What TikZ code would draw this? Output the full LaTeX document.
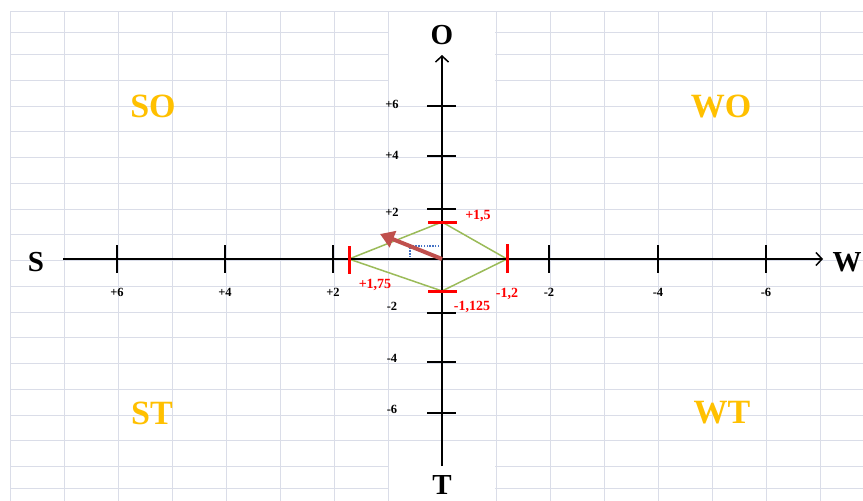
\documentclass[tikz,border=0pt]{standalone}
\usepackage{fontspec}
\setmainfont{Liberation Serif}
\usetikzlibrary{arrows.meta}
\definecolor{gridc}{RGB}{218,221,232}
\definecolor{gold}{RGB}{255,192,0}
\definecolor{dgreen}{RGB}{155,187,89}
\definecolor{arrowred}{RGB}{192,80,77}
\definecolor{dotblue}{RGB}{68,114,196}
\begin{document}
\begin{tikzpicture}[x=1pt,y=-1pt,
  gridline/.style={draw=gridc,line width=1pt},
  axisline/.style={draw=black,line width=1.5pt,-{Straight Barb[length=6pt,width=13pt,line width=1.5pt]}},
  tickline/.style={draw=black,line width=1.5pt},
  redtick/.style={draw=red,line width=3pt},
  axlabel/.style={inner sep=0pt,font=\fontsize{29}{29}\selectfont\bfseries},
  quadlabel/.style={inner sep=0pt,text=gold,font=\fontsize{34}{34}\selectfont\bfseries},
  ticklabel/.style={inner sep=0pt,font=\fontsize{12.5}{12.5}\selectfont\bfseries},
  redlabel/.style={inner sep=0pt,text=red,font=\fontsize{14}{14}\selectfont\bfseries},
  diam/.style={draw=dgreen,line width=1.5pt,line join=miter},
  dotline/.style={draw=dotblue,line width=1.4pt,dash pattern=on 1.4pt off 1.4pt},
  vecarrow/.style={draw=arrowred,line width=4pt,-{Triangle[length=14pt,width=17pt]}}
]
\useasboundingbox (0,0) rectangle (863,501);
\fill[white] (0,0) rectangle (863,501);
% grid
\foreach \i in {0,...,15} \draw[gridline] ({10+54*\i},11) -- ({10+54*\i},501);
\foreach \y in {11,32,54,80,106,131,157,183,209,234,260,286,312,337,363,389,415,440,466,488}
  \draw[gridline] (10,\y) -- (863,\y);
% white boxes behind O and T
\fill[white] (389,12) rectangle (495,92);
\fill[white] (389,462) rectangle (495,501);
% points
\coordinate (xs) at (63,259);
\coordinate (xe) at (823,259);
\coordinate (ys) at (442,466);
\coordinate (ye) at (442,55);
\coordinate (orig) at (442,259);
\coordinate (dl) at (349,259);
\coordinate (dt) at (442,222);
\coordinate (dr) at (507,259);
\coordinate (db) at (442,291);
\coordinate (p1) at (442,246);
\coordinate (p2) at (410,246);
\coordinate (p3) at (410,260);
\coordinate (tipv) at (380,234);
% diamond and dotted helper
\draw[diam] (dl) -- (dt) -- (dr) -- (db) -- cycle;
\draw[dotline] (p1) -- (p2) -- (p3);
% axes
\draw[axisline] (xs) -- (xe);
\draw[axisline] (ys) -- (ye);
% horizontal ticks
\foreach \x/\l in {117/+6,225/+4,333/+2,549/-2,658/-4,766/-6}{
  \draw[tickline] (\x,245) -- (\x,273);
  \node[ticklabel] (hx\x) at (\x,292) {\l};
}
% vertical ticks
\foreach \y in {106,156,209,313,362,413}
  \draw[tickline] (427,\y) -- (456,\y);
\foreach \y/\l in {104/+6,155/+4,212/+2,306/-2,358/-4,409/-6}
  \node[ticklabel] (vy\y) at (392,\y) {\l};
% red ticks
\draw[redtick] (428,222) -- (457,222);
\draw[redtick] (428,291) -- (457,291);
\draw[redtick] (349,246) -- (349,274);
\draw[redtick] (507,244) -- (507,273);
% red labels
\node[redlabel] (r1) at (478,216) {+1,5};
\node[redlabel] (r2) at (472,307) {-1,125};
\node[redlabel] (r3) at (375,285) {+1,75};
\node[redlabel] (r4) at (507,294) {-1,2};
% vector arrow
\draw[vecarrow] (orig) -- (tipv);
% axis labels
\node[axlabel] (lO) at (442,35) {O};
\node[axlabel] (lS) at (36,262) {S};
\node[axlabel] (lW) at (847,262) {W};
\node[axlabel] (lT) at (442,485) {T};
% quadrant labels
\node[quadlabel] (qSO) at (153,106) {SO};
\node[quadlabel] (qWO) at (721,106) {WO};
\node[quadlabel] (qST) at (152,413) {ST};
\node[quadlabel] (qWT) at (722,413) {WT};
\end{tikzpicture}
\end{document}
